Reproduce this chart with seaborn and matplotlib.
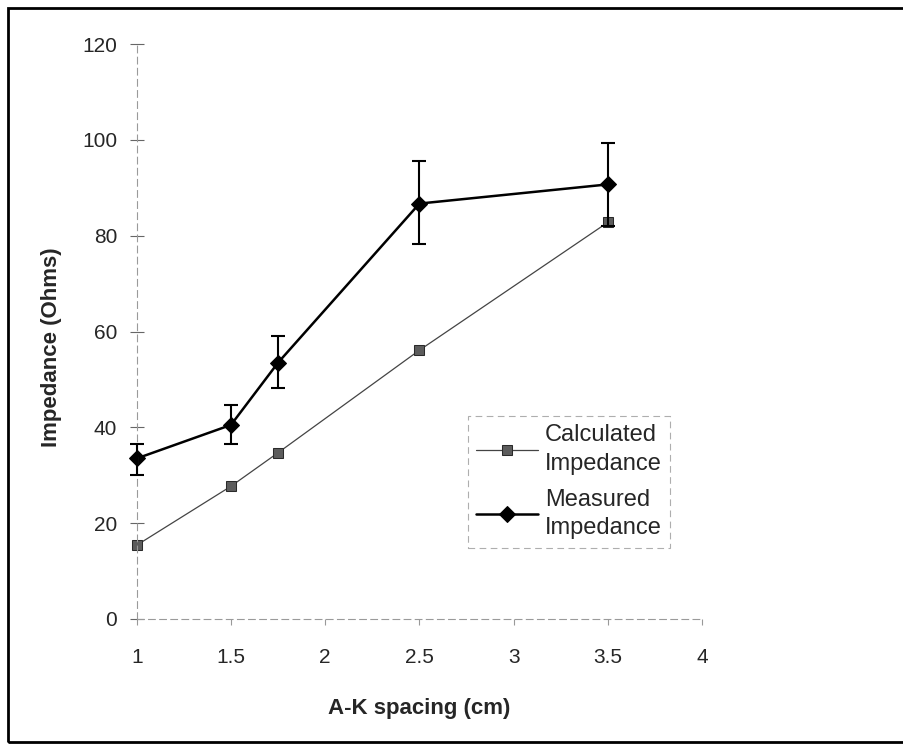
import matplotlib
matplotlib.use("Agg")
import matplotlib.pyplot as plt
import seaborn as sns
import pandas as pd
from matplotlib.patches import Rectangle

# ---- data ----
spacing = [1.0, 1.5, 1.75, 2.5, 3.5]
calculated = [15.4, 27.7, 34.7, 56.1, 82.8]
measured = [33.5, 40.5, 53.5, 86.7, 90.7]
measured_low = [30.1, 36.5, 48.3, 78.3, 82.1]
measured_high = [36.5, 44.6, 59.1, 95.6, 99.4]
x_ticks = [1, 1.5, 2, 2.5, 3, 3.5, 4]
x_tick_labels = ["1", "1.5", "2", "2.5", "3", "3.5", "4"]
y_ticks = [0, 20, 40, 60, 80, 100, 120]

sns.set_theme(style="white")
plt.rcParams["font.family"] = ["Liberation Sans", "DejaVu Sans"]

df = pd.DataFrame({"spacing": spacing, "calc": calculated, "meas": measured})

W, H = 904, 744
fig = plt.figure(figsize=(W / 100, H / 100), dpi=100)
ax = fig.add_axes([136.7 / W, 1 - 619 / H, 565.5 / W, 575 / H])

sns.lineplot(data=df, x="spacing", y="calc", ax=ax, color="#444444", lw=0.9,
             marker="s", markersize=7, markerfacecolor="#5c5c5c",
             markeredgecolor="#2a2a2a", label="Calculated\nImpedance",
             clip_on=False)
sns.lineplot(data=df, x="spacing", y="meas", ax=ax, color="black", lw=1.8,
             marker="D", markersize=8, markerfacecolor="black",
             markeredgecolor="black", label="Measured\nImpedance",
             clip_on=False)

yerr = [[m - lo for m, lo in zip(measured, measured_low)],
        [hi - m for m, hi in zip(measured, measured_high)]]
eb = ax.errorbar(spacing, measured, yerr=yerr, fmt="none", ecolor="black",
                 elinewidth=1.5, capsize=5, capthick=1.5, zorder=3)
for art in list(eb.lines[1]) + list(eb.lines[2]):
    art.set_clip_on(False)

ax.set_xlim(1, 4)
ax.set_ylim(0, 120)
ax.set_xticks(x_ticks)
ax.set_xticklabels(x_tick_labels)
ax.set_yticks(y_ticks)
ax.tick_params(axis="y", direction="inout", length=10, width=0.8, color="#666666",
               pad=9, labelsize=15, left=True)
ax.tick_params(axis="x", direction="out", length=4, width=0.8, color="#999999",
               pad=17, labelsize=15, bottom=True)

for s in ["top", "right"]:
    ax.spines[s].set_visible(False)
for s in ["left", "bottom"]:
    ax.spines[s].set_color("#9a9a9a")
    ax.spines[s].set_linewidth(0.8)
    ax.spines[s].set_linestyle((0, (6, 4)))

ax.set_xlabel("A-K spacing (cm)", fontsize=16, fontweight="bold")
ax.set_ylabel("Impedance (Ohms)", fontsize=16, fontweight="bold")
ax.xaxis.set_label_coords(0.5, -0.137)
ax.yaxis.set_label_coords(-0.132, 0.473)

leg = ax.legend(loc="upper left", bbox_to_anchor=(468 / W, 1 - 416 / H),
                bbox_transform=fig.transFigure, fontsize=17, frameon=True,
                fancybox=False, handlelength=2.6, labelspacing=0.6,
                borderpad=0.35, handletextpad=0.3, borderaxespad=0)
for t in leg.get_texts():
    t.set_linespacing(1.38)
leg.get_frame().set_edgecolor("#9a9a9a")
leg.get_frame().set_linestyle((0, (6, 4)))
leg.get_frame().set_linewidth(0.8)

# outer frame of the scanned chart
fig.patches.append(Rectangle((8 / W, 1 - 742 / H), 1.05, (742 - 8) / H,
                             transform=fig.transFigure, fill=False,
                             edgecolor="black", linewidth=2.0))

fig.savefig("out.png", dpi=100, facecolor="white")
